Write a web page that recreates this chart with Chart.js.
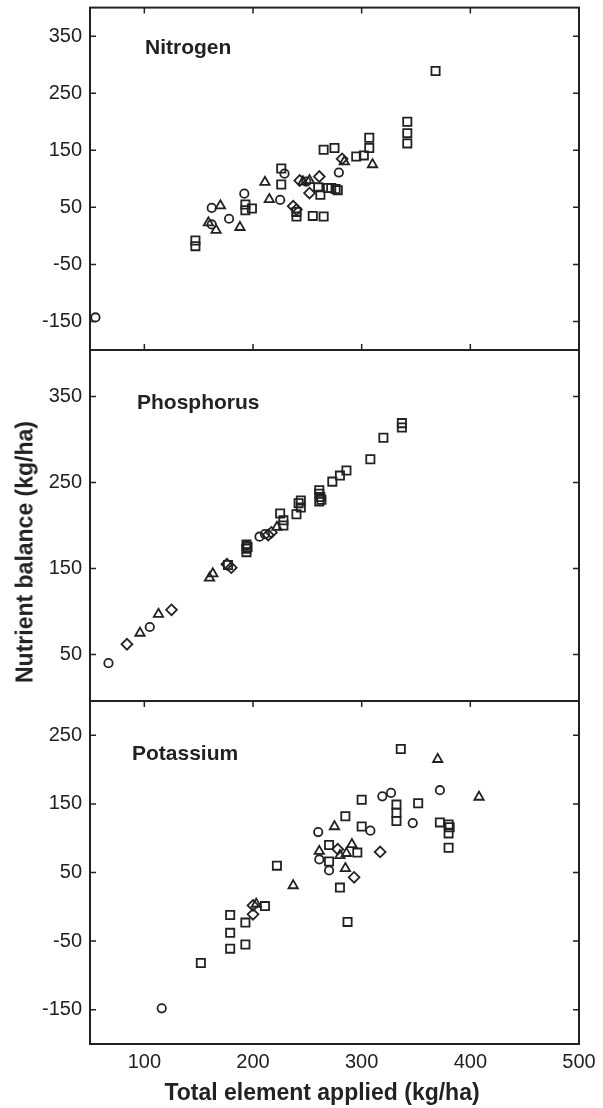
<!DOCTYPE html>
<html>
<head>
<meta charset="utf-8">
<script src="https://cdn.jsdelivr.net/npm/chart.js@4.4.1/dist/chart.umd.min.js"></script>
<style>
  html, body { margin: 0; padding: 0; background: #fff; }
  #wrap { position: relative; width: 603px; height: 1108px; overflow: hidden; background: #fff; }
  #wrap canvas { position: absolute; left: 0; top: 0; }
  .lbl { position: absolute; font-family: "Liberation Sans", Arial, Helvetica, sans-serif; font-weight: bold; color: #222; white-space: nowrap; line-height: 1; }
</style>
</head>
<body>
<div id="wrap">
  <canvas id="c1" width="603" height="1108"></canvas>
  <canvas id="c2" width="603" height="1108"></canvas>
  <canvas id="c3" width="603" height="1108"></canvas>
  <div class="lbl" id="tN" style="left:145px; top:36px; font-size:21px;">Nitrogen</div>
  <div class="lbl" id="tP" style="left:137px; top:391px; font-size:21px;">Phosphorus</div>
  <div class="lbl" id="tK" style="left:132px; top:742px; font-size:21px;">Potassium</div>
  <div class="lbl" id="yTitle" style="font-size:23px; left:25px; top:552px; transform: translate(-50%,-50%) rotate(-90deg);">Nutrient balance (kg/ha)</div>
  <div class="lbl" id="xTitle" style="font-size:23px; left:322px; top:1092px; transform: translate(-50%,-50%);">Total element applied (kg/ha)</div>
</div>
<script>
// ---------- tick labels ----------
const xTickValues = [100, 200, 300, 400, 500];
const nitrogenYTicks = [350, 250, 150, 50, -50, -150];
const phosphorusYTicks = [350, 250, 150, 50];
const potassiumYTicks = [250, 150, 50, -50, -150];

// ---------- Nitrogen (x: total applied, y: balance) ----------
const nitrogenCircles = [[55,-143],[162,49],[162,20],[178,30],[192,74],[225,63],[229,109],[249,95],[279,111]];
const nitrogenTriangles = [[159,23],[166,10],[170,53],[188,15],[211,94],[215,64],[246,95],[252,97],[284,130],[310,125]];
const nitrogenDiamonds = [[237,52],[240,46],[243,97],[252,75],[261,104],[282,135]];
const nitrogenSquares = [[147,-8],[147,-18],[193,55],[193,45],[199,48],[226,118],[226,90],[240,42],[240,34],[255,35],[265,34],[260,85],[262,72],[269,84],[272,84],[276,82],[278,80],[265,151],[275,154],[295,139],[302,141],[307,172],[307,154],[342,200],[342,180],[342,162],[368,289]];

// ---------- Phosphorus ----------
const phosphorusCircles = [[67,40],[105,82],[194,177],[206,187],[211,190]];
const phosphorusTriangles = [[96,75],[113,97],[160,139],[163,144],[222,198]];
const phosphorusDiamonds = [[84,62],[125,102],[176,155],[180,151],[214,189],[217,192]];
const phosphorusSquares = [[177,154],[194,178],[194,173],[194,169],[195,175],[225,214],[228,206],[228,200],[240,213],[242,226],[244,229],[244,221],[261,241],[261,237],[262,233],[263,230],[261,228],[273,251],[280,258],[286,264],[308,277],[320,302],[337,319],[337,314]];

// ---------- Potassium ----------
const potassiumCircles = [[116,-148],[260,109],[261,69],[270,53],[308,111],[319,161],[327,166],[347,122],[372,170]];
const potassiumTriangles = [[203,4],[237,31],[261,81],[275,117],[280,75],[286,78],[285,56],[291,91],[370,215],[408,160]];
const potassiumDiamonds = [[200,-11],[200,2],[278,84],[293,43],[317,80]];
const potassiumSquares = [[152,-82],[179,-12],[179,-38],[179,-61],[193,-23],[193,-55],[211,1],[222,60],[270,90],[270,66],[280,28],[285,132],[287,-22],[296,79],[300,156],[300,117],[332,149],[332,137],[332,125],[336,230],[352,151],[372,123],[380,120],[381,116],[380,107],[380,86]];

const INK = '#222';
const FONT = '"Liberation Sans", Arial, Helvetica, sans-serif';
Chart.defaults.font.family = FONT;
Chart.defaults.color = INK;

const frameTicks = {
  id: 'frameTicks',
  afterDraw(chart, args, opts) {
    const { ctx, chartArea: { left, right, top, bottom }, scales: { x, y } } = chart;
    ctx.save();
    ctx.strokeStyle = INK;
    ctx.lineWidth = 2;
    ctx.strokeRect(left, top, right - left, bottom - top);
    ctx.lineWidth = 1.5;
    ctx.beginPath();
    (opts.yTicks || []).forEach(v => {
      const py = y.getPixelForValue(v);
      ctx.moveTo(left, py); ctx.lineTo(left + 6, py);
      ctx.moveTo(right, py); ctx.lineTo(right - 6, py);
    });
    xTickValues.forEach(v => {
      if (v >= 500) return;
      const px = x.getPixelForValue(v);
      if (opts.top) { ctx.moveTo(px, top); ctx.lineTo(px, top + 6); }
      if (opts.bottom) { ctx.moveTo(px, bottom); ctx.lineTo(px, bottom - 6); }
    });
    ctx.stroke();
    ctx.restore();
  }
};

function ds(points, style, radius) {
  return {
    data: points.map(p => ({ x: p[0], y: p[1] })),
    pointStyle: style,
    pointRadius: radius,
    pointHoverRadius: radius,
    pointBorderWidth: 1.8,
    borderColor: INK,
    backgroundColor: 'rgba(0,0,0,0)',
    showLine: false,
    clip: false
  };
}

function makePanel(id, sets, yMin, yMax, yTicks, padTop, padBottom, showX, tickOpts) {
  new Chart(document.getElementById(id), {
    type: 'scatter',
    data: {
      datasets: [
        ds(sets[0], 'circle', 4.2),
        ds(sets[1], 'triangle', 5.4),
        ds(sets[2], 'rectRot', 5.4),
        ds(sets[3], 'rect', 5.8)
      ]
    },
    plugins: [frameTicks],
    options: {
      responsive: false,
      animation: false,
      events: [],
      layout: { padding: { left: 0, right: 24, top: padTop, bottom: padBottom } },
      plugins: {
        legend: { display: false },
        tooltip: { enabled: false },
        frameTicks: Object.assign({ yTicks: yTicks }, tickOpts)
      },
      scales: {
        x: {
          type: 'linear', min: 50, max: 500,
          display: showX,
          grid: { display: false, drawTicks: false },
          border: { display: false },
          afterBuildTicks: s => { s.ticks = xTickValues.map(v => ({ value: v })); },
          ticks: { font: { size: 20 }, color: INK, padding: 6, maxRotation: 0, autoSkip: false },
          afterFit: s => { s.height = showX ? 64 : 0; s.paddingLeft = 0; s.paddingRight = 0; }
        },
        y: {
          type: 'linear', min: yMin, max: yMax,
          grid: { display: false, drawTicks: false },
          border: { display: false },
          afterBuildTicks: s => { s.ticks = yTicks.map(v => ({ value: v })); },
          ticks: { font: { size: 20 }, color: INK, padding: 8, autoSkip: false },
          afterFit: s => { s.width = 90; s.paddingTop = 0; s.paddingBottom = 0; }
        }
      }
    }
  });
}

makePanel('c1', [nitrogenCircles, nitrogenTriangles, nitrogenDiamonds, nitrogenSquares],
  -200, 400, nitrogenYTicks, 7, 1108 - 350, false, { top: true, bottom: true });
makePanel('c2', [phosphorusCircles, phosphorusTriangles, phosphorusDiamonds, phosphorusSquares],
  -4, 404, phosphorusYTicks, 350, 1108 - 701, false, { top: false, bottom: false });
makePanel('c3', [potassiumCircles, potassiumTriangles, potassiumDiamonds, potassiumSquares],
  -200, 300, potassiumYTicks, 701, 0, true, { top: true, bottom: false });
</script>
</body>
</html>
